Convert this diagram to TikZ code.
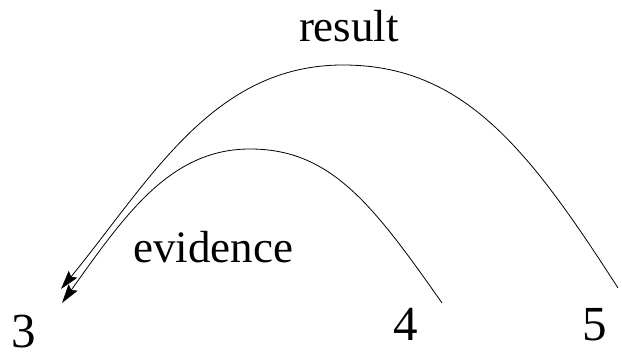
\documentclass[tikz,border=0pt]{standalone}
\usepackage{fontspec}
\setmainfont{Liberation Serif}
\usetikzlibrary{arrows.meta}
\begin{document}
\begin{tikzpicture}[x=1pt,y=1pt,
  lbl/.style={anchor=base,inner sep=0pt,font=\fontsize{45}{54}\selectfont},
  num/.style={anchor=base,inner sep=0pt,font=\fontsize{49}{58}\selectfont},
  arc/.style={line width=0.8pt,-{Stealth[length=19pt,width=11pt,inset=3pt]}}]
\useasboundingbox (0,0) rectangle (622,354);
% labels
\node[lbl] (result) at (349,312) {result};
\node[lbl] (evidence) at (213,92) {evidence};
\node[num] (n3) at (23.5,7) {3};
\node[num] (n4) at (406,14) {4};
\node[num] (n5) at (595,14) {5};
% curve end points
\coordinate (o5) at (618,66);
\coordinate (otop) at (343,289);
\coordinate (o3) at (61,65);
\coordinate (i4) at (442,51);
\coordinate (itop) at (250,205);
\coordinate (i3) at (62,51);
% result arc
\draw[arc] (o5) .. controls +(-90,140) and +(120,0) .. (otop)
  .. controls +(-130,0) and +(90,110) .. (o3);
% evidence arc
\draw[arc] (i4) .. controls +(-70,100) and +(80,0) .. (itop)
  .. controls +(-80,0) and +(63,88) .. (i3);
\end{tikzpicture}
\end{document}
